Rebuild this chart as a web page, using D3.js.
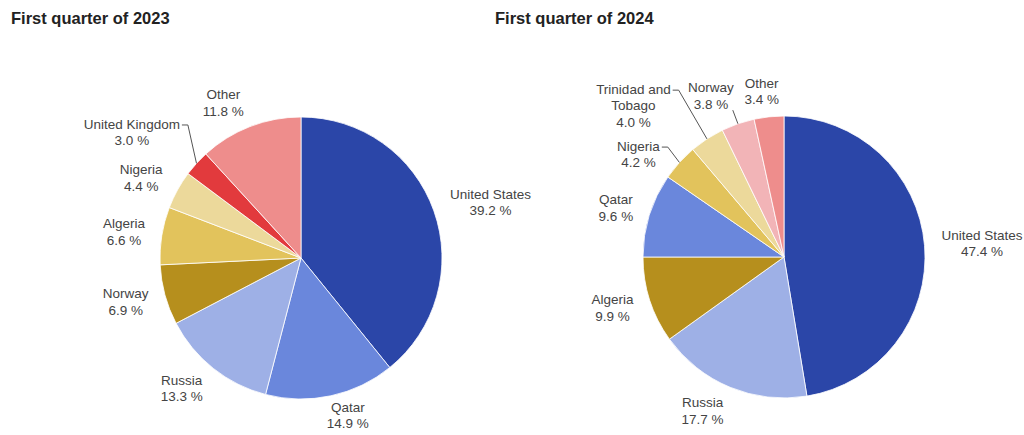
<!DOCTYPE html>
<html>
<head>
<meta charset="utf-8">
<script src="https://cdn.jsdelivr.net/npm/d3@7"></script>
<style>
  body { margin: 0; background: #fff; }
  text { font-family: "Liberation Sans", Arial, sans-serif; }
</style>
</head>
<body>
<script>
// LNG import shares by origin
const countries2023 = ["United States", "Qatar", "Russia", "Norway", "Algeria", "Nigeria", "United Kingdom", "Other"];
const shares2023 = [39.2, 14.9, 13.3, 6.9, 6.6, 4.4, 3.0, 11.8];

const countries2024 = ["United States", "Russia", "Algeria", "Qatar", "Nigeria", "Trinidad and Tobago", "Norway", "Other"];
const shares2024 = [47.4, 17.7, 9.9, 9.6, 4.2, 4.0, 3.8, 3.4];

const titles = ["First quarter of 2023", "First quarter of 2024"];

// slice colours, in slice order
const colors2023 = ["#2b46a8", "#6a87dc", "#9eb0e6", "#b68f1d", "#e2c35c", "#ecd99b", "#e23a3d", "#ee8d8c"];
const colors2024 = ["#2b46a8", "#9eb0e6", "#b68f1d", "#6a87dc", "#e2c35c", "#ecd99b", "#f2b4b7", "#ee8d8c"];

// labels that were pushed off their default spot (they get a leader line)
const moved2023 = {"United Kingdom": [-4, -14]};
const moved2024 = {"Trinidad and Tobago": [-27, -5], "Nigeria": [-7, 9], "Norway": [1, -4]};

const W = 1024, H = 435;
const svg = d3.select("body").append("svg")
  .attr("width", W)
  .attr("height", H);

const fmt = d3.format(".1f");
const fontSize = 13.5, lineH = 16.5;

// measure text widths
const meas = svg.append("text").attr("font-size", fontSize).attr("visibility", "hidden");
function textW(s) { meas.text(s); return meas.node().getComputedTextLength(); }

function wrap(name, maxW) {
  let words = name.split(" "), lines = [], cur = "";
  words.forEach(w => {
    let t = cur ? cur + " " + w : w;
    if (cur && textW(t) > maxW) { lines.push(cur); cur = w; }
    else cur = t;
  });
  lines.push(cur);
  return lines;
}

function drawPie(opts) {
  const {cx, cy, r, names, values, colors, moved, title, tx} = opts;

  svg.append("text")
    .attr("x", tx).attr("y", 24)
    .attr("font-size", 16.5)
    .attr("font-weight", "bold")
    .attr("fill", "#222")
    .text(title);

  const data = names.map((n, i) => ({name: n, v: values[i], color: colors[i]}));
  const pie = d3.pie().sort(null).value(d => d.v);
  const arc = d3.arc().innerRadius(0).outerRadius(r);
  const arcs = pie(data);

  const g = svg.append("g").attr("transform", "translate(" + cx + "," + cy + ")");

  g.selectAll("path")
    .data(arcs)
    .enter().append("path")
    .attr("d", arc)
    .attr("fill", d => d.data.color)
    .attr("stroke", "#fff")
    .attr("stroke-width", 0.8);

  // labels sit just outside the rim, snapped by their nearest edge
  const padX = 17, padY = 9;
  arcs.forEach(d => {
    const a = (d.startAngle + d.endAngle) / 2;
    const lines = wrap(d.data.name, 104);
    lines.push(fmt(d.data.v) + " %");
    const w = d3.max(lines, textW);
    const h = lines.length * lineH;
    const px = (r + padX) * Math.sin(a), py = -(r + padY) * Math.cos(a);
    const kx = Math.max(-1, Math.min(1, 3 * Math.sin(a)));
    const ky = Math.max(-1, Math.min(1, Math.cos(a)));
    let bx = px + kx * w / 2, by = py - ky * h / 2;
    const nudge = moved[d.data.name];
    if (nudge) { bx += nudge[0]; by += nudge[1]; }
    // keep the block inside the picture
    by = Math.min(by, H - cy - 3 - h / 2);

    const top = by - h / 2;
    const t = g.append("text")
      .attr("font-size", fontSize)
      .attr("fill", "#444")
      .attr("text-anchor", "middle");
    lines.forEach((s, i) => {
      t.append("tspan")
        .attr("x", bx)
        .attr("y", top + lineH / 2 + i * lineH)
        .attr("dy", "0.35em")
        .text(s);
    });

    if (nudge) {
      const ex = r * Math.sin(a), ey = -r * Math.cos(a);
      const right = bx + w / 2, bottom = by + h / 2;
      let pts;
      if (ey > bottom + 5 && ex > bx - w / 2 - 5 && ex < right + 10) {
        pts = [[right - 1, bottom - 2], [ex, ey]];
      } else {
        const sx = bx + textW(lines[0]) / 2 + 2, sy = top + lineH / 2 + 1;
        pts = [[sx, sy], [Math.min(ex, sx + 6), sy], [ex, ey]];
      }
      g.append("path")
        .attr("d", d3.line()(pts))
        .attr("fill", "none")
        .attr("stroke", "#555")
        .attr("stroke-width", 1);
    }
  });
}

drawPie({cx: 301, cy: 258, r: 141, names: countries2023, values: shares2023,
  colors: colors2023, moved: moved2023, title: titles[0], tx: 11});
drawPie({cx: 784, cy: 257, r: 141, names: countries2024, values: shares2024,
  colors: colors2024, moved: moved2024, title: titles[1], tx: 495});
</script>
</body>
</html>
